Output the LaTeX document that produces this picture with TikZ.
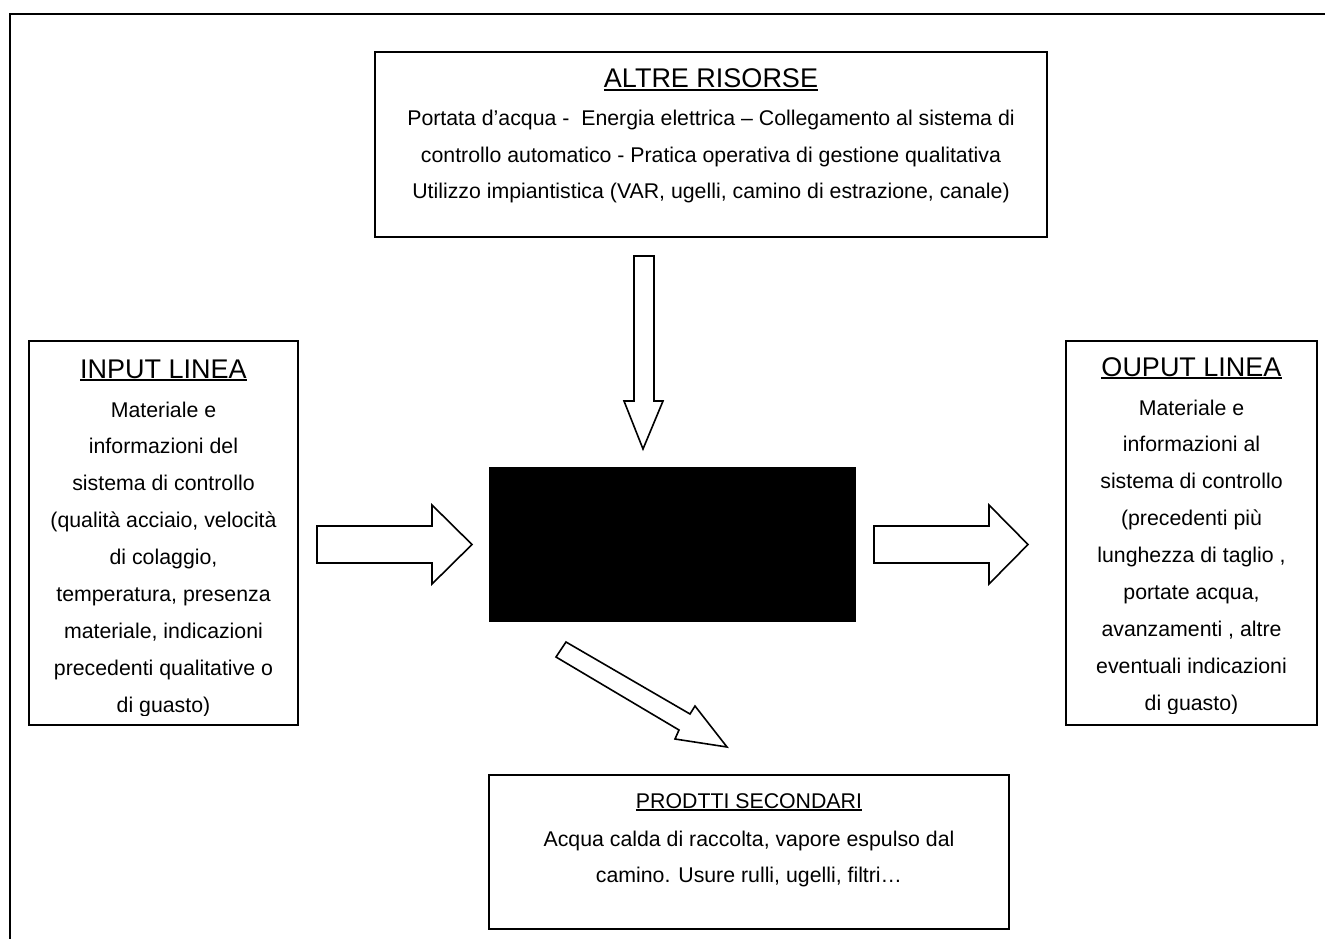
\documentclass[tikz,border=0pt]{standalone}
\usepackage{fontspec}
\setmainfont{Liberation Sans}
\newcommand\myul[1]{\setbox0=\hbox{#1}\rlap{\raisebox{-3.3pt}{\rule{\wd0}{2pt}}}\box0}
\newcommand\myulthin[1]{\setbox0=\hbox{#1}\rlap{\raisebox{-2.8pt}{\rule{\wd0}{1.5pt}}}\box0}
\tikzset{
  frame/.style={draw, line width=2pt},
  box/.style={draw, line width=2pt, fill=white, inner sep=0pt, outer sep=0pt, anchor=north west},
  body/.style={font=\fontsize{21.3}{25}\selectfont, inner sep=0pt, anchor=base},
  ttl/.style={font=\fontsize{27}{32}\selectfont, inner sep=0pt, anchor=base},
  fatarrow/.style={draw, line width=1.6pt, fill=white, line join=miter},
}
\begin{document}
\begin{tikzpicture}[x=1pt, y=-1pt]
\useasboundingbox (0,0) rectangle (1325,939);
% outer frame
\coordinate (fbl) at (10,939);
\coordinate (ftl) at (10,14);
\coordinate (ftr) at (1325,14);
\draw[frame] (fbl) -- (ftl) -- (ftr);

% boxes
\node[box, minimum width=672, minimum height=185] (altre) at (375,52) {};
\node[box, minimum width=269, minimum height=384] (inbox) at (29,341) {};
\node[box, minimum width=251, minimum height=384] (outbox) at (1066,341) {};
\node[box, minimum width=520, minimum height=154] (prod) at (489,775) {};
\node[fill=black, inner sep=0pt, outer sep=0pt, anchor=north west, minimum width=367, minimum height=155] (core) at (489,467) {};

% ALTRE RISORSE
\node[ttl] (altreT) at (711,88) {\myul{ALTRE RISORSE}};
\node[body] (altre1) at (711,126) {Portata d’acqua -\ \ Energia elettrica – Collegamento al sistema di};
\node[body] (altre2) at (711,162) {controllo automatico - Pratica operativa di gestione qualitativa};
\node[body] (altre3) at (711,198) {Utilizzo impiantistica (VAR, ugelli, camino di estrazione, canale)};

% INPUT LINEA
\node[ttl] (inT) at (163.5,378) {\myul{INPUT LINEA}};
\foreach \t [count=\i] in {{Materiale e},{informazioni del},{sistema di controllo},{(qualità acciaio, velocità},{di colaggio,},{temperatura, presenza},{materiale, indicazioni},{precedenti qualitative o}}
  \node[body] (in\i) at ({163.5},{417+36.9*(\i-1)}) {\t};
\begin{scope}
  \clip (30,690) rectangle (297,715);
  \node[body] (in9) at (163.5,712.2) {di guasto)};
\end{scope}

% OUPUT LINEA
\node[ttl] (outT) at (1191.5,376) {\myul{OUPUT LINEA}};
\foreach \t [count=\i] in {{Materiale e},{informazioni al},{sistema di controllo},{(precedenti più},{lunghezza di taglio ,},{portate acqua,},{avanzamenti , altre},{eventuali indicazioni}}
  \node[body] (out\i) at ({1191.5},{415+36.9*(\i-1)}) {\t};
\begin{scope}
  \clip (1067,688) rectangle (1316,713);
  \node[body] (out9) at (1191.5,710.2) {di guasto)};
\end{scope}

% PRODTTI SECONDARI
\node[body] (prodT) at (749,808) {\myulthin{PRODTTI SECONDARI}};
\node[body] (prod1) at (749,846) {Acqua calda di raccolta, vapore espulso dal};
\node[body] (prod2) at (749,882) {camino. Usure rulli, ugelli, filtri…};

% block arrows
\draw[fatarrow] (634,256) -- (654,256) -- (654,401) -- (663,401) -- (643,449) -- (624,401) -- (634,401) -- cycle;
\draw[fatarrow] (317,526) -- (432,526) -- (432,505) -- (472,544.5) -- (432,584) -- (432,563) -- (317,563) -- cycle;
\draw[fatarrow] (874,526) -- (989,526) -- (989,505) -- (1028,544.5) -- (989,584) -- (989,563) -- (874,563) -- cycle;
\draw[fatarrow] (566,642) -- (690,714) -- (695,706) -- (727,747) -- (675,739) -- (679,730) -- (556,657) -- cycle;
\end{tikzpicture}
\end{document}
